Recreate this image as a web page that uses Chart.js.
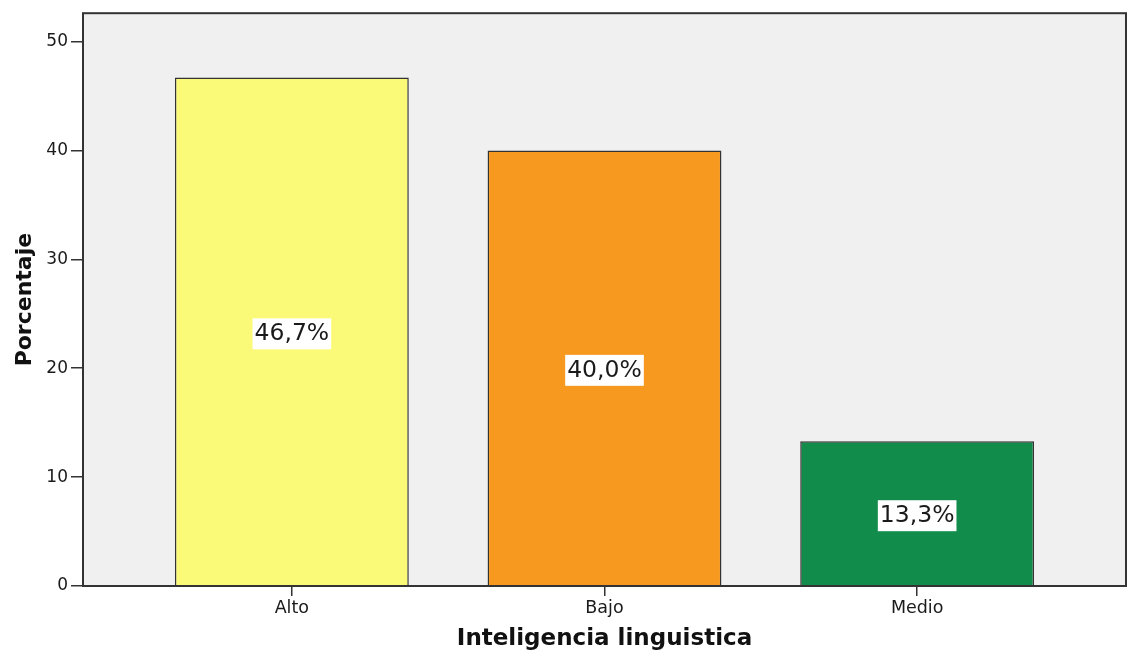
<!DOCTYPE html>
<html>
<head>
<meta charset="utf-8">
<script src="https://cdn.jsdelivr.net/npm/chart.js@4"></script>
<style>
  html, body { margin: 0; padding: 0; background: #fff; }
  #wrap { width: 1133px; height: 653px; }
</style>
</head>
<body>
<div id="wrap"><canvas id="chart" width="1133" height="653"></canvas></div>
<script>
const categories = ['Alto', 'Bajo', 'Medio'];
const percentages = [46.7, 40.0, 13.3];
const barLabels = ['46,7%', '40,0%', '13,3%'];
const barColors = ['#fafa78', '#f7981f', '#118c4b'];
const yTicks = [0, 10, 20, 30, 40, 50];

const positions = categories.map((_, i) => i + 1);
const FONT = '"DejaVu Sans", Verdana, sans-serif';

// plot background + frame + value labels
const framePlugin = {
  id: 'frame',
  beforeDatasetsDraw(chart) {
    const { ctx, chartArea: a } = chart;
    ctx.save();
    ctx.fillStyle = '#f0f0f0';
    ctx.fillRect(a.left, a.top, a.right - a.left, a.bottom - a.top);
    ctx.restore();
  },
  afterDatasetsDraw(chart) {
    const { ctx, chartArea: a } = chart;
    ctx.save();
    ctx.strokeStyle = '#333';
    ctx.lineWidth = 2;
    ctx.strokeRect(a.left, a.top, a.right - a.left, a.bottom - a.top);

    const meta = chart.getDatasetMeta(0);
    ctx.font = '23.5px ' + FONT;
    ctx.textAlign = 'center';
    ctx.textBaseline = 'middle';
    meta.data.forEach((bar, i) => {
      const txt = barLabels[i];
      const cy = (bar.y + bar.base) / 2 + 2;
      const w = ctx.measureText(txt).width + 4;
      ctx.fillStyle = '#fff';
      ctx.fillRect(bar.x - w / 2, cy - 15, w, 31);
      ctx.fillStyle = '#1a1a1a';
      ctx.fillText(txt, bar.x, cy + 1);
    });
    ctx.restore();
  }
};

new Chart(document.getElementById('chart'), {
  type: 'bar',
  data: {
    datasets: [{
      data: positions.map((x, i) => ({ x: x, y: percentages[i] })),
      backgroundColor: barColors,
      borderColor: '#333',
      borderWidth: 1.5,
      barPercentage: 0.748,
      categoryPercentage: 1
    }]
  },
  options: {
    responsive: false,
    animation: false,
    layout: { padding: { top: 12, right: 7, left: 0, bottom: 0 } },
    plugins: { legend: { display: false }, tooltip: { enabled: false } },
    scales: {
      x: {
        type: 'linear',
        offset: false,
        min: 0.332,
        max: 3.668,
        afterBuildTicks(s) { s.ticks = positions.map(v => ({ value: v })); },
        afterFit(s) { s.height = 67; },
        grid: { offset: false, drawOnChartArea: false, tickLength: 10, color: '#333', lineWidth: 1.5 },
        border: { display: false },
        ticks: {
          color: '#1a1a1a',
          padding: 2,
          maxRotation: 0,
          font: { family: FONT, size: 17.5 },
          callback: v => categories[v - 1] || ''
        },
        title: {
          display: true,
          text: 'Inteligencia linguistica',
          color: '#111',
          padding: { top: 0, bottom: 0 },
          font: { family: FONT, size: 23, weight: 'bold' }
        }
      },
      y: {
        min: 0,
        max: 52.6,
        afterBuildTicks(s) { s.ticks = yTicks.map(v => ({ value: v })); },
        afterFit(s) { s.width = 83; },
        grid: { drawOnChartArea: false, tickLength: 12, color: '#333', lineWidth: 1.5 },
        border: { display: false },
        ticks: {
          color: '#1a1a1a',
          padding: 3,
          font: { family: FONT, size: 17 }
        },
        title: {
          display: true,
          text: 'Porcentaje',
          color: '#111',
          padding: { top: 12, bottom: 0 },
          font: { family: FONT, size: 22, weight: 'bold' }
        }
      }
    }
  },
  plugins: [framePlugin]
});
</script>
</body>
</html>
